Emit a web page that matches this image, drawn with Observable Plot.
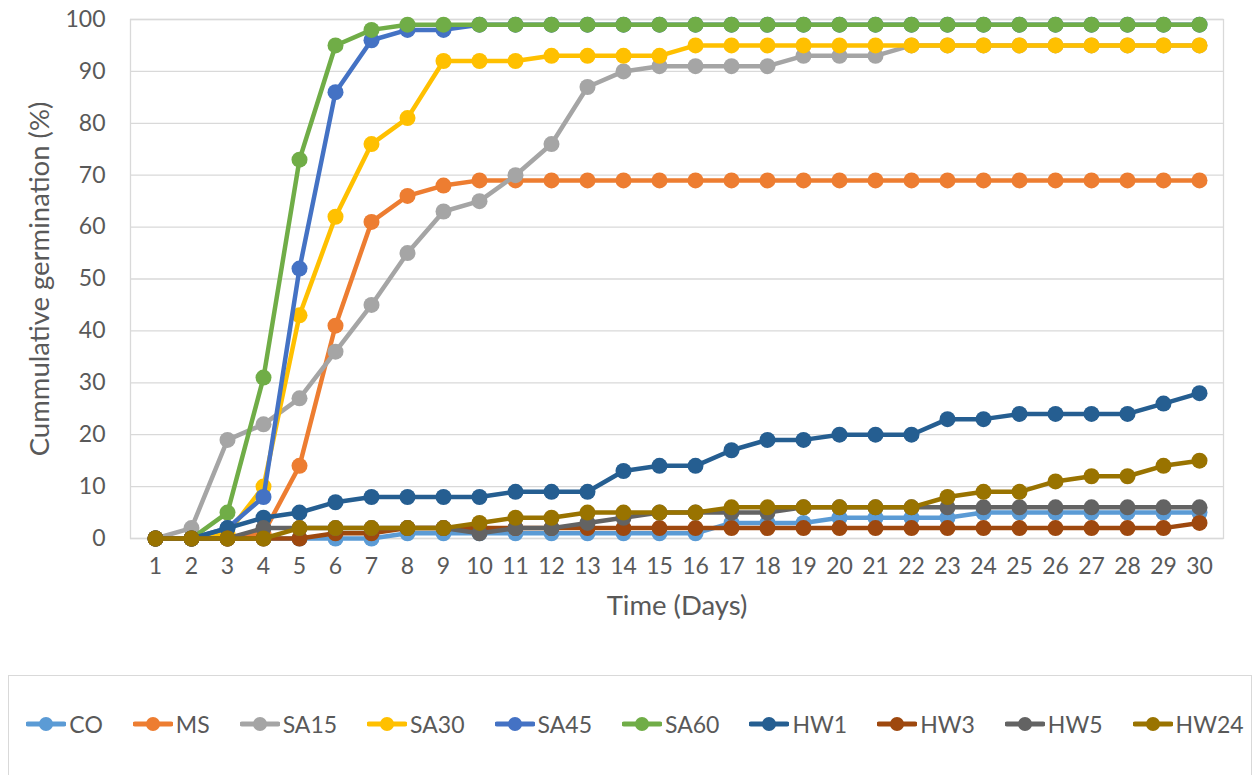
<!DOCTYPE html>
<html>
<head>
<meta charset="utf-8">
<script src="https://cdn.jsdelivr.net/npm/d3@7"></script>
<script src="https://cdn.jsdelivr.net/npm/@observablehq/plot@0.6"></script>
<style>
  body { margin: 0; background: #fff; font-family: Lato, "Open Sans", sans-serif; }
  #chart { position: absolute; left: 0; top: 0; }
  #legend {
    position: absolute; left: 8px; top: 675px; width: 1244px; height: 110px;
    border: 1px solid #d9d9d9; box-sizing: border-box;
    display: flex; align-items: center; justify-content: center; gap: 30px;
    padding-bottom: 12px; padding-left: 10px;
  }
  .item { display: flex; align-items: center; gap: 3px; font-size: 23px; color: #595959; white-space: nowrap; }
</style>
</head>
<body>
<div id="chart"></div>
<div id="legend"></div>
<script>
const days = [1,2,3,4,5,6,7,8,9,10,11,12,13,14,15,16,17,18,19,20,21,22,23,24,25,26,27,28,29,30];
const yTicks = [0,10,20,30,40,50,60,70,80,90,100];
const seriesNames = ["CO","MS","SA15","SA30","SA45","SA60","HW1","HW3","HW5","HW24"];
const seriesColors = ["#5B9BD5","#ED7D31","#A5A5A5","#FFC000","#4472C4","#70AD47","#255E91","#9E480E","#636363","#997300"];

const CO   = [0,0,0,0,0,0,0,1,1,1,1,1,1,1,1,1,3,3,3,4,4,4,4,5,5,5,5,5,5,5];
const MS   = [0,0,0,1,14,41,61,66,68,69,69,69,69,69,69,69,69,69,69,69,69,69,69,69,69,69,69,69,69,69];
const SA15 = [0,2,19,22,27,36,45,55,63,65,70,76,87,90,91,91,91,91,93,93,93,95,95,95,95,95,95,95,95,95];
const SA30 = [0,0,1,10,43,62,76,81,92,92,92,93,93,93,93,95,95,95,95,95,95,95,95,95,95,95,95,95,95,95];
const SA45 = [0,0,2,8,52,86,96,98,98,99,99,99,99,99,99,99,99,99,99,99,99,99,99,99,99,99,99,99,99,99];
const SA60 = [0,0,5,31,73,95,98,99,99,99,99,99,99,99,99,99,99,99,99,99,99,99,99,99,99,99,99,99,99,99];
const HW1  = [0,0,2,4,5,7,8,8,8,8,9,9,9,13,14,14,17,19,19,20,20,20,23,23,24,24,24,24,26,28];
const HW3  = [0,0,0,0,0,1,1,2,2,2,2,2,2,2,2,2,2,2,2,2,2,2,2,2,2,2,2,2,2,3];
const HW5  = [0,0,0,2,2,2,2,2,2,1,2,2,3,4,5,5,5,5,6,6,6,6,6,6,6,6,6,6,6,6];
const HW24 = [0,0,0,0,2,2,2,2,2,3,4,4,5,5,5,5,6,6,6,6,6,6,8,9,9,11,12,12,14,15];

const seriesValues = [CO, MS, SA15, SA30, SA45, SA60, HW1, HW3, HW5, HW24];

const rows = seriesNames.flatMap((name, i) =>
  seriesValues[i].map((v, j) => ({series: name, day: days[j], value: v}))
);

const seriesMarks = seriesNames.flatMap((name, i) => {
  const d = rows.filter(r => r.series === name);
  return [
    Plot.line(d, {x: "day", y: "value", stroke: seriesColors[i], strokeWidth: 4.5, strokeLinejoin: "round", strokeLinecap: "round"}),
    Plot.dot(d, {x: "day", y: "value", r: 8, fill: seriesColors[i], stroke: "none"})
  ];
});

const chart = Plot.plot({
  width: 1260,
  height: 660,
  marginLeft: 130,
  marginRight: 37,
  marginTop: 19,
  marginBottom: 122,
  style: {fontFamily: "Lato, 'Open Sans', sans-serif", fontSize: "22px", color: "#595959", background: "white", overflow: "visible"},
  x: {type: "point", domain: days, padding: 0.5, align: 0.5},
  y: {domain: [0, 100]},
  marks: [
    Plot.gridY(yTicks, {stroke: "#d9d9d9", strokeOpacity: 1, strokeWidth: 1.3}),
    Plot.frame({stroke: "#d9d9d9", strokeWidth: 1.3}),
    Plot.axisX(days, {tickSize: 0, tickPadding: 19, label: null, fill: "#595959", fontSize: 23}),
    Plot.axisY(yTicks, {tickSize: 0, tickPadding: 25, label: null, fill: "#595959", fontSize: 23}),
    ...seriesMarks,
    Plot.text(["Time (Days)"], {text: d => d, frameAnchor: "bottom", textAnchor: "middle", dy: 76, fontSize: 27.5, fill: "#595959"}),
    Plot.text(["Cummulative germination (%)"], {text: d => d, frameAnchor: "left", textAnchor: "middle", rotate: -90, dx: -90, fontSize: 27.5, fill: "#595959"})
  ]
});
document.getElementById("chart").appendChild(chart);

const legend = document.getElementById("legend");
seriesNames.forEach((name, i) => {
  const item = document.createElement("div");
  item.className = "item";
  item.innerHTML = `<svg width="40" height="20"><line x1="2" y1="10" x2="38" y2="10" stroke="${seriesColors[i]}" stroke-width="5" stroke-linecap="round"/><circle cx="20" cy="10" r="7" fill="${seriesColors[i]}"/></svg><span>${name}</span>`;
  legend.appendChild(item);
});
</script>
</body>
</html>
